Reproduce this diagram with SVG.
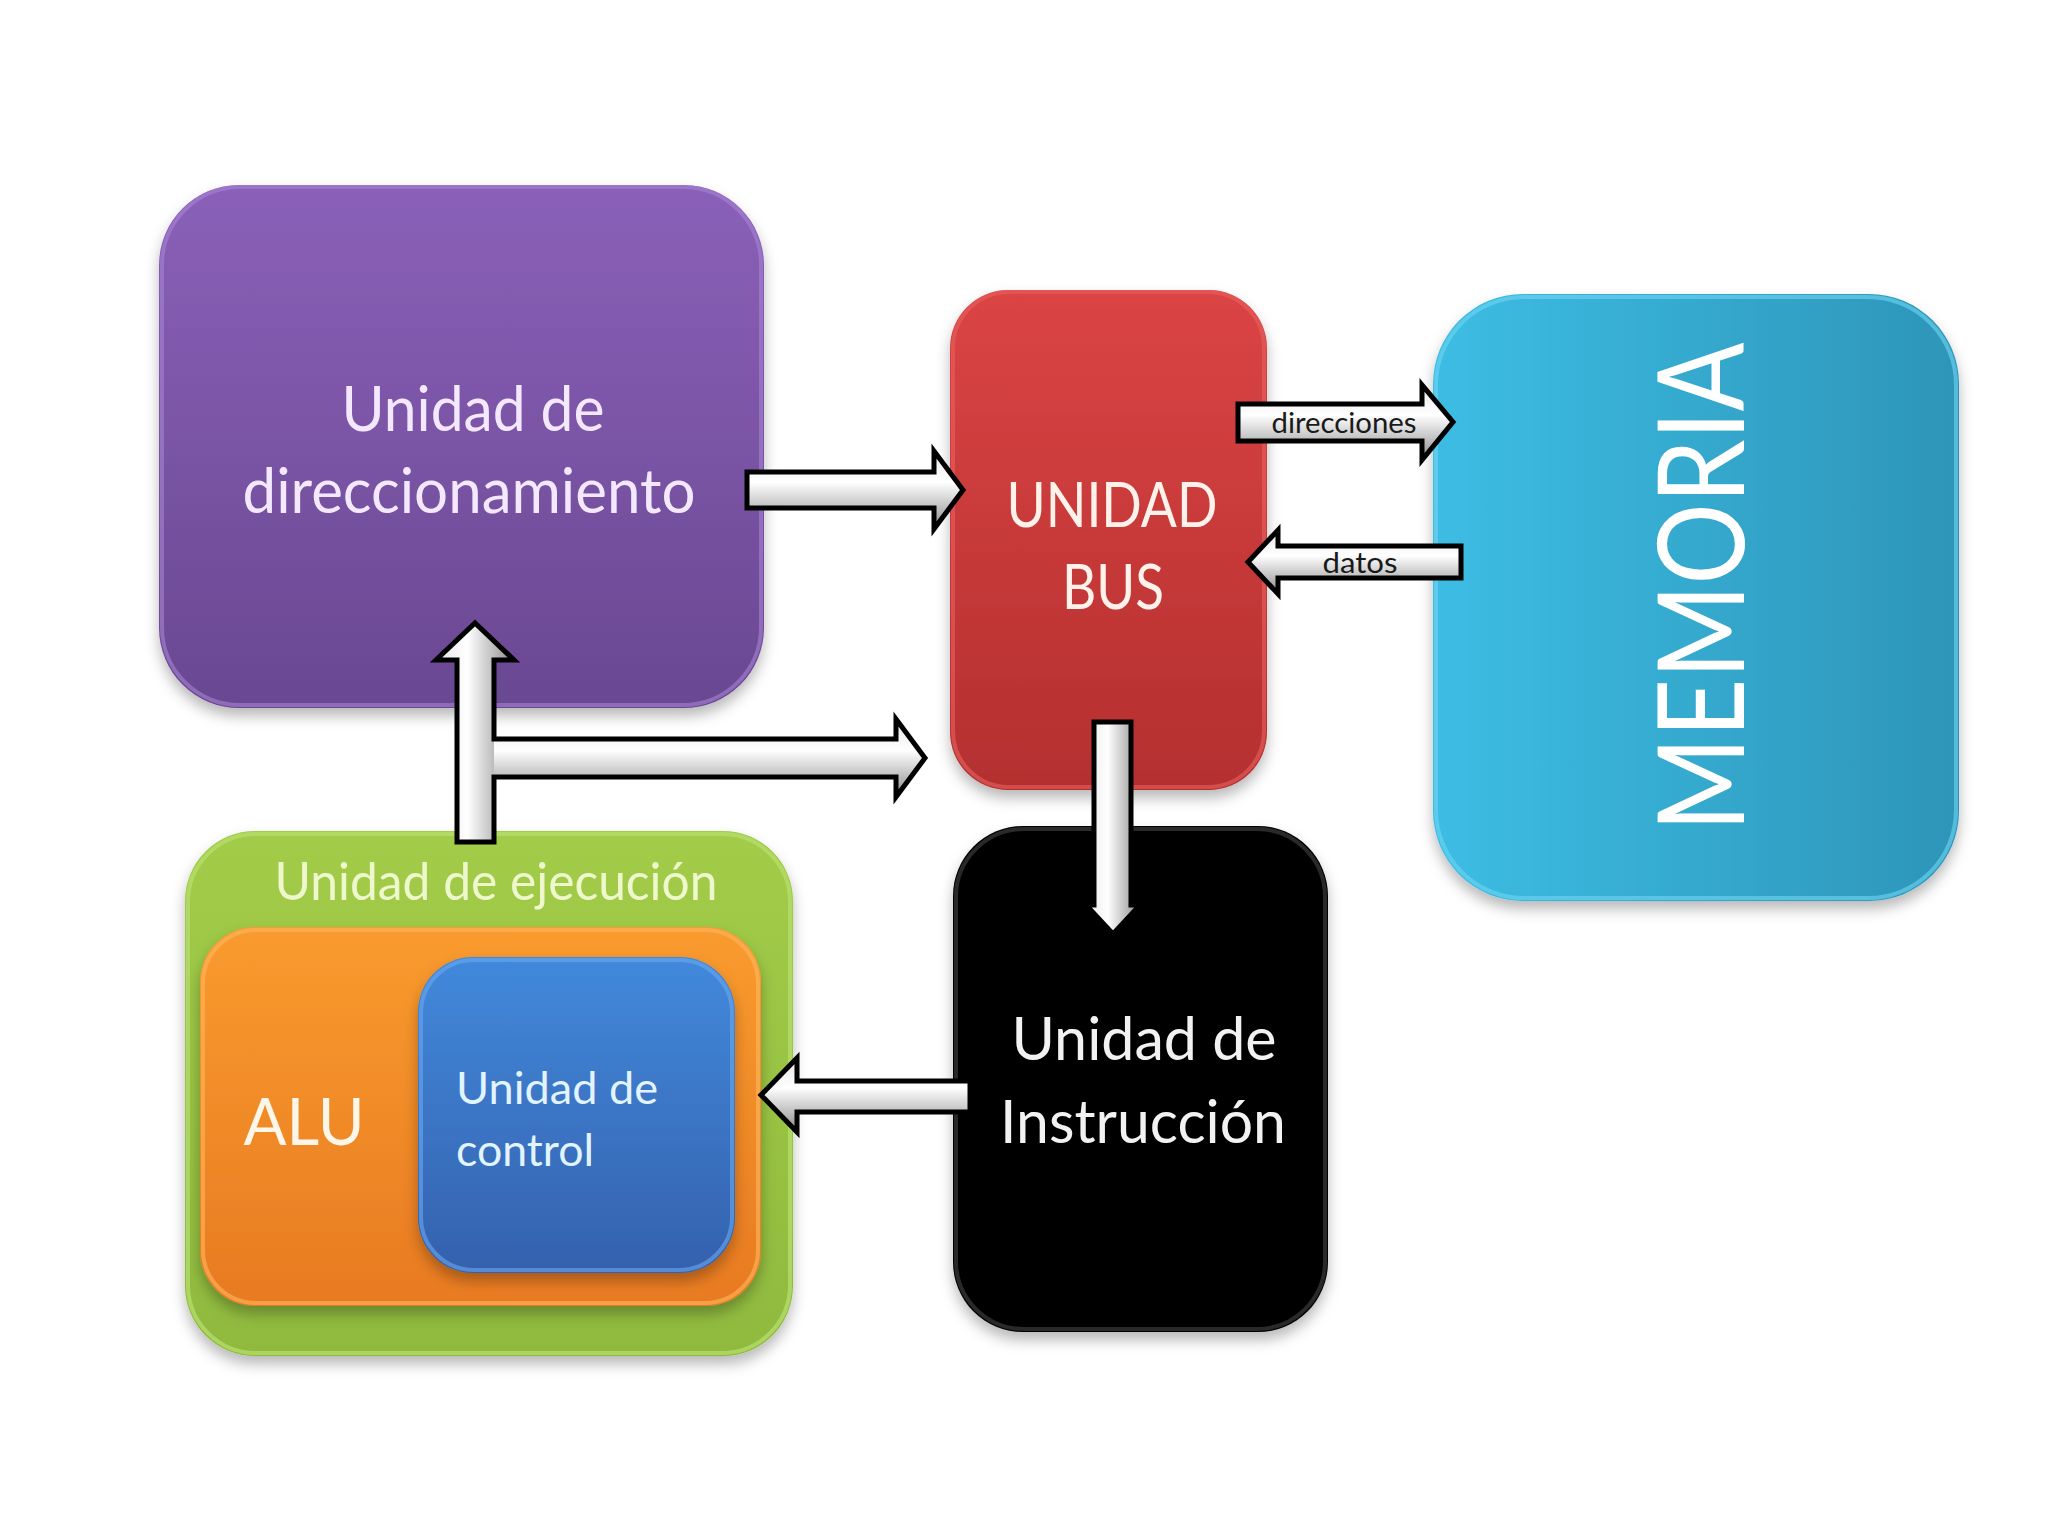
<svg xmlns="http://www.w3.org/2000/svg" width="2048" height="1536" viewBox="0 0 2048 1536">
<defs>
  <style>
    .lbl { font-family: Lato, "Open Sans", "Liberation Sans", sans-serif; text-anchor: middle; }
    .small { font-family: Lato, "Liberation Sans", sans-serif; font-size: 28px; fill: #1a1a1a; text-anchor: middle; }
    .arrow { stroke: none; }
    .outline { fill: none; stroke: #000; stroke-width: 5; stroke-linejoin: miter; }
  </style>
  <filter id="shadow" x="-10%" y="-10%" width="120%" height="125%">
    <feDropShadow dx="0" dy="8" stdDeviation="7" flood-color="#000" flood-opacity="0.28"/>
  </filter>
  <linearGradient id="gPurple" x1="0" y1="0" x2="0" y2="1">
    <stop offset="0" stop-color="#8a60b8"/>
    <stop offset="1" stop-color="#6a4892"/>
  </linearGradient>
  <linearGradient id="gRed" x1="0" y1="0" x2="0" y2="1">
    <stop offset="0" stop-color="#db4444"/>
    <stop offset="1" stop-color="#b42f2f"/>
  </linearGradient>
  <linearGradient id="gBlueM" x1="0" y1="0" x2="1" y2="0">
    <stop offset="0" stop-color="#3dbde4"/>
    <stop offset="1" stop-color="#2d95b8"/>
  </linearGradient>
  <linearGradient id="gGreen" x1="0" y1="0" x2="0" y2="1">
    <stop offset="0" stop-color="#a2cc48"/>
    <stop offset="1" stop-color="#8fba3e"/>
  </linearGradient>
  <linearGradient id="gOrange" x1="0" y1="0" x2="0" y2="1">
    <stop offset="0" stop-color="#f99b2e"/>
    <stop offset="1" stop-color="#e87a22"/>
  </linearGradient>
  <linearGradient id="gBlue" x1="0" y1="0" x2="0" y2="1">
    <stop offset="0" stop-color="#4289db"/>
    <stop offset="1" stop-color="#3461ae"/>
  </linearGradient>
  <linearGradient id="gArrowH" x1="0" y1="0" x2="0" y2="1">
    <stop offset="0" stop-color="#e6e6e6"/>
    <stop offset="0.4" stop-color="#ffffff"/>
    <stop offset="0.6" stop-color="#d8d8d8"/>
    <stop offset="1" stop-color="#8a8a8a"/>
  </linearGradient>
  <linearGradient id="gArrowV" x1="0" y1="0" x2="1" y2="0">
    <stop offset="0" stop-color="#e6e6e6"/>
    <stop offset="0.4" stop-color="#ffffff"/>
    <stop offset="0.6" stop-color="#d8d8d8"/>
    <stop offset="1" stop-color="#8a8a8a"/>
  </linearGradient>
</defs>
<rect width="2048" height="1536" fill="#ffffff"/>

<g id="node-direccionamiento">
  <rect x="159" y="185" width="605" height="523" rx="80" fill="url(#gPurple)" filter="url(#shadow)"/>
  <rect x="162" y="187" width="599" height="518" rx="78" fill="none" stroke="#a684d4" stroke-width="4" opacity="0.6"/>
  <text class="lbl" x="473" y="431" font-size="62" fill="#f4e8ff" textLength="263" lengthAdjust="spacingAndGlyphs">Unidad de</text>
  <text class="lbl" x="469" y="513" font-size="62" fill="#f4e8ff" textLength="453" lengthAdjust="spacingAndGlyphs">direccionamiento</text>
</g>

<g id="node-bus">
  <rect x="950" y="290" width="317" height="500" rx="58" fill="url(#gRed)" filter="url(#shadow)"/>
  <rect x="953" y="292" width="311" height="495" rx="56" fill="none" stroke="#e86060" stroke-width="4" opacity="0.6"/>
  <text class="lbl" x="1112" y="527" font-size="61" fill="#fff2ea" textLength="211" lengthAdjust="spacingAndGlyphs">UNIDAD</text>
  <text class="lbl" x="1113" y="609" font-size="61" fill="#fff2ea" textLength="102" lengthAdjust="spacingAndGlyphs">BUS</text>
</g>

<g id="node-memoria">
  <rect x="1433" y="294" width="526" height="607" rx="90" fill="url(#gBlueM)" filter="url(#shadow)"/>
  <rect x="1436" y="297" width="520" height="601" rx="88" fill="none" stroke="#6fd6f4" stroke-width="4" opacity="0.6"/>
  <text class="lbl" transform="translate(1744,587) rotate(-90)" font-size="121" fill="#ffffff" textLength="489" lengthAdjust="spacingAndGlyphs">MEMORIA</text>
</g>

<g id="node-ejecucion">
  <rect x="185" y="831" width="608" height="525" rx="70" fill="url(#gGreen)" filter="url(#shadow)"/>
  <rect x="188" y="834" width="602" height="519" rx="68" fill="none" stroke="#b8e070" stroke-width="4" opacity="0.7"/>
  <text class="lbl" x="496" y="900" font-size="52" fill="#eef8cc" textLength="443" lengthAdjust="spacingAndGlyphs">Unidad de ejecución</text>
</g>

<g id="node-alu">
  <rect x="200" y="927" width="561" height="379" rx="55" fill="url(#gOrange)" filter="url(#shadow)"/>
  <rect x="203" y="930" width="555" height="373" rx="53" fill="none" stroke="#ffb860" stroke-width="4" opacity="0.6"/>
  <text class="lbl" x="304" y="1145" font-size="66" fill="#fff6ea" textLength="121" lengthAdjust="spacingAndGlyphs">ALU</text>
</g>

<g id="node-control">
  <rect x="418" y="957" width="317" height="316" rx="55" fill="url(#gBlue)" filter="url(#shadow)"/>
  <rect x="421" y="960" width="311" height="310" rx="53" fill="none" stroke="#6aa8f0" stroke-width="4" opacity="0.6"/>
  <text x="456" y="1104" font-family="Lato, 'Open Sans', 'Liberation Sans', sans-serif" font-size="45" fill="#e2f4ff" textLength="202" lengthAdjust="spacingAndGlyphs">Unidad de</text>
  <text x="456" y="1166" font-family="Lato, 'Open Sans', 'Liberation Sans', sans-serif" font-size="45" fill="#e2f4ff" textLength="138" lengthAdjust="spacingAndGlyphs">control</text>
</g>

<g id="node-instruccion">
  <rect x="953" y="826" width="375" height="506" rx="70" fill="#000000" filter="url(#shadow)"/>
  <rect x="956" y="829" width="369" height="500" rx="68" fill="none" stroke="#3a3a3a" stroke-width="4" opacity="0.7"/>
  <text class="lbl" x="1144" y="1060" font-size="60" fill="#f2f2f2" textLength="265" lengthAdjust="spacingAndGlyphs">Unidad de</text>
  <text class="lbl" x="1143" y="1143" font-size="60" fill="#f2f2f2" textLength="286" lengthAdjust="spacingAndGlyphs">Instrucción</text>
</g>

<g id="connectors">
  <!-- direccionamiento -> bus -->
  <polygon class="arrow" points="747,472 934,472 934,451 963,490 934,529 934,508 747,508" fill="url(#gArrowH)"/>
  <polygon class="outline" points="747,472 934,472 934,451 963,490 934,529 934,508 747,508"/>
  <!-- direcciones: bus -> memoria -->
  <polygon class="arrow" points="1238,404 1422,404 1422,385 1453,422 1422,460 1422,441 1238,441" fill="url(#gArrowH)"/>
  <polygon class="outline" points="1238,404 1422,404 1422,385 1453,422 1422,460 1422,441 1238,441"/>
  <text class="small" x="1344" y="433" textLength="145" lengthAdjust="spacingAndGlyphs">direcciones</text>
  <!-- datos: memoria -> bus -->
  <polygon class="arrow" points="1461,546 1278,546 1278,530 1248,562 1278,594 1278,578 1461,578" fill="url(#gArrowH)"/>
  <polygon class="outline" points="1461,546 1278,546 1278,530 1248,562 1278,594 1278,578 1461,578"/>
  <text class="small" x="1360" y="573" textLength="75" lengthAdjust="spacingAndGlyphs">datos</text>
  <!-- ejecucion -> direccionamiento and -> bus -->
  <polygon class="arrow" points="457,842 457,660 436,660 475,623 514,660 494,660 494,842" fill="url(#gArrowV)"/>
  <polygon class="arrow" points="494,739 896,739 896,719 925,758 896,797 896,777 494,777" fill="url(#gArrowH)"/>
  <polygon class="outline" points="457,842 457,660 436,660 475,623 514,660 494,660 494,739 896,739 896,719 925,758 896,797 896,777 494,777 494,842"/>
  <!-- bus -> instruccion -->
  <polygon class="arrow" points="1094,722 1131,722 1131,905 1140,905 1113,934 1086,905 1094,905" fill="url(#gArrowV)"/>
  <polygon class="outline" points="1094,722 1131,722 1131,905 1140,905 1113,934 1086,905 1094,905"/>
  <!-- instruccion -> control -->
  <polygon class="arrow" points="970,1081 797,1081 797,1058 761,1095 797,1132 797,1112 970,1112" fill="url(#gArrowH)"/>
  <polygon class="outline" points="970,1081 797,1081 797,1058 761,1095 797,1132 797,1112 970,1112"/>
</g>
</svg>
